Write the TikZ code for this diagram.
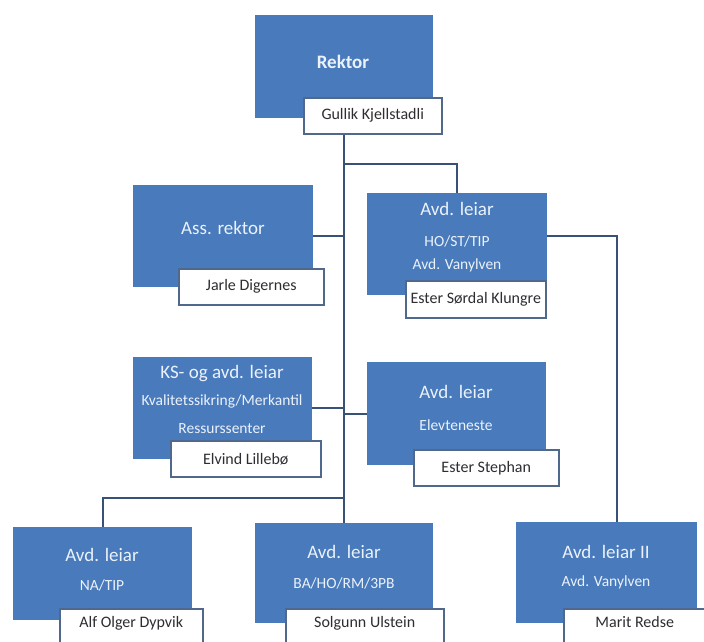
\documentclass[tikz,border=0pt]{standalone}
\usepackage{fontspec}
\setmainfont{Carlito}
\usetikzlibrary{calc,backgrounds}
\definecolor{boxblue}{RGB}{72,122,188}
\definecolor{linecol}{RGB}{55,82,118}
\definecolor{nameedge}{RGB}{80,104,140}
\definecolor{boxtext}{RGB}{236,242,250}
\definecolor{nametext}{RGB}{45,45,50}
\tikzset{
  bluebox/.style={fill=boxblue, draw=none, anchor=north west, inner sep=0pt},
  namebox/.style={fill=white, draw=nameedge, line width=1.5pt, anchor=north west, inner sep=0pt,
    text=nametext, font=\fontsize{16}{18}\selectfont},
  ttl/.style={text=boxtext, font=\fontsize{19}{21}\selectfont, inner sep=0pt},
  sub/.style={text=boxtext, font=\fontsize{15.5}{17}\selectfont, inner sep=0pt},
  conn/.style={draw=linecol, line width=2pt}
}
\begin{document}
\begin{tikzpicture}[x=1pt,y=-1pt]
\useasboundingbox (0,0) rectangle (704,642);
\clip (0,0) rectangle (704,642);
% blue boxes
\node[bluebox, minimum width=178pt, minimum height=103pt] (rek) at (255,15) {};
\node[bluebox, minimum width=180pt, minimum height=102pt] (ass) at (133,185) {};
\node[bluebox, minimum width=180pt, minimum height=102pt] (hoa) at (367,193) {};
\node[bluebox, minimum width=179pt, minimum height=102pt] (ks) at (133,357) {};
\node[bluebox, minimum width=179pt, minimum height=103pt] (elev) at (367,362) {};
\node[bluebox, minimum width=179pt, minimum height=93pt] (na) at (13,527) {};
\node[bluebox, minimum width=178pt, minimum height=100pt] (sol) at (255,523) {};
\node[bluebox, minimum width=181pt, minimum height=101pt] (ii) at (516,522) {};
% titles
\node[ttl, font=\bfseries\fontsize{19}{21}\selectfont] (t1) at (343,62) {Rektor};
\node[ttl] (t2) at (223,228) {Ass. rektor};
\node[ttl] (t3) at (457,209) {Avd. leiar};
\node[sub] (t3b) at (457,241) {HO/ST/TIP};
\node[sub] (t3c) at (457,265) {Avd. Vanylven};
\node[ttl] (t4) at (222,374) {KS- og avd. leiar};
\node[sub] (t4b) at (222,401) {Kvalitetssikring/Merkantil};
\node[sub] (t4c) at (222,429) {Ressurssenter};
\node[ttl] (t5) at (456,392) {Avd. leiar};
\node[sub] (t5b) at (456,425) {Elevteneste};
\node[ttl] (t6) at (102,555) {Avd. leiar};
\node[sub] (t6b) at (102,585) {NA/TIP};
\node[ttl] (t7) at (344,552) {Avd. leiar};
\node[sub] (t7b) at (344,583) {BA/HO/RM/3PB};
\node[ttl] (t8) at (606,552) {Avd. leiar II};
\node[sub] (t8b) at (606,582) {Avd. Vanylven};
% name boxes
\node[namebox, minimum width=138pt, minimum height=36pt] (n1) at (303,97) {Gullik Kjellstadli};
\node[namebox, minimum width=145pt, minimum height=36pt] (n2) at (178,268) {Jarle Digernes};
\node[namebox, minimum width=140pt, minimum height=37pt] (n3) at (405,280) {Ester Sørdal Klungre};
\node[namebox, minimum width=150pt, minimum height=36pt] (n4) at (170,440) {Elvind Lillebø};
\node[namebox, minimum width=145pt, minimum height=36pt] (n5) at (413,449) {Ester Stephan};
\node[namebox, minimum width=143pt, minimum height=50pt, text height=11pt, text depth=24pt] (n6) at (59,608) {Alf Olger Dypvik};
\node[namebox, minimum width=158pt, minimum height=50pt, text height=11pt, text depth=24pt] (n7) at (285,608) {Solgunn Ulstein};
\node[namebox, minimum width=142pt, minimum height=50pt, text height=11pt, text depth=24pt] (n8) at (563,608) {Marit Redse};
% connectors
\begin{scope}[on background layer]
\fill[white] (0,0) rectangle (704,642);
\draw[conn] (rek.south) -- (sol.north);
\draw[conn] (rek.south |- 0,164) -| (hoa.north);
\draw[conn] (ass.east) -- (ass.east -| rek.south);
\coordinate (hoR) at ($(hoa.north east)+(0,43)$);
\coordinate (iiTop) at ($(ii.north)+(10,0)$);
\draw[conn] (hoR) -| (iiTop);
\draw[conn] (ks.east) -- (ks.east -| rek.south);
\draw[conn] (elev.west -| rek.south) -- (elev.west);
\draw[conn] (sol.north |- 0,498) -| (na.north);
\end{scope}
\end{tikzpicture}
\end{document}
